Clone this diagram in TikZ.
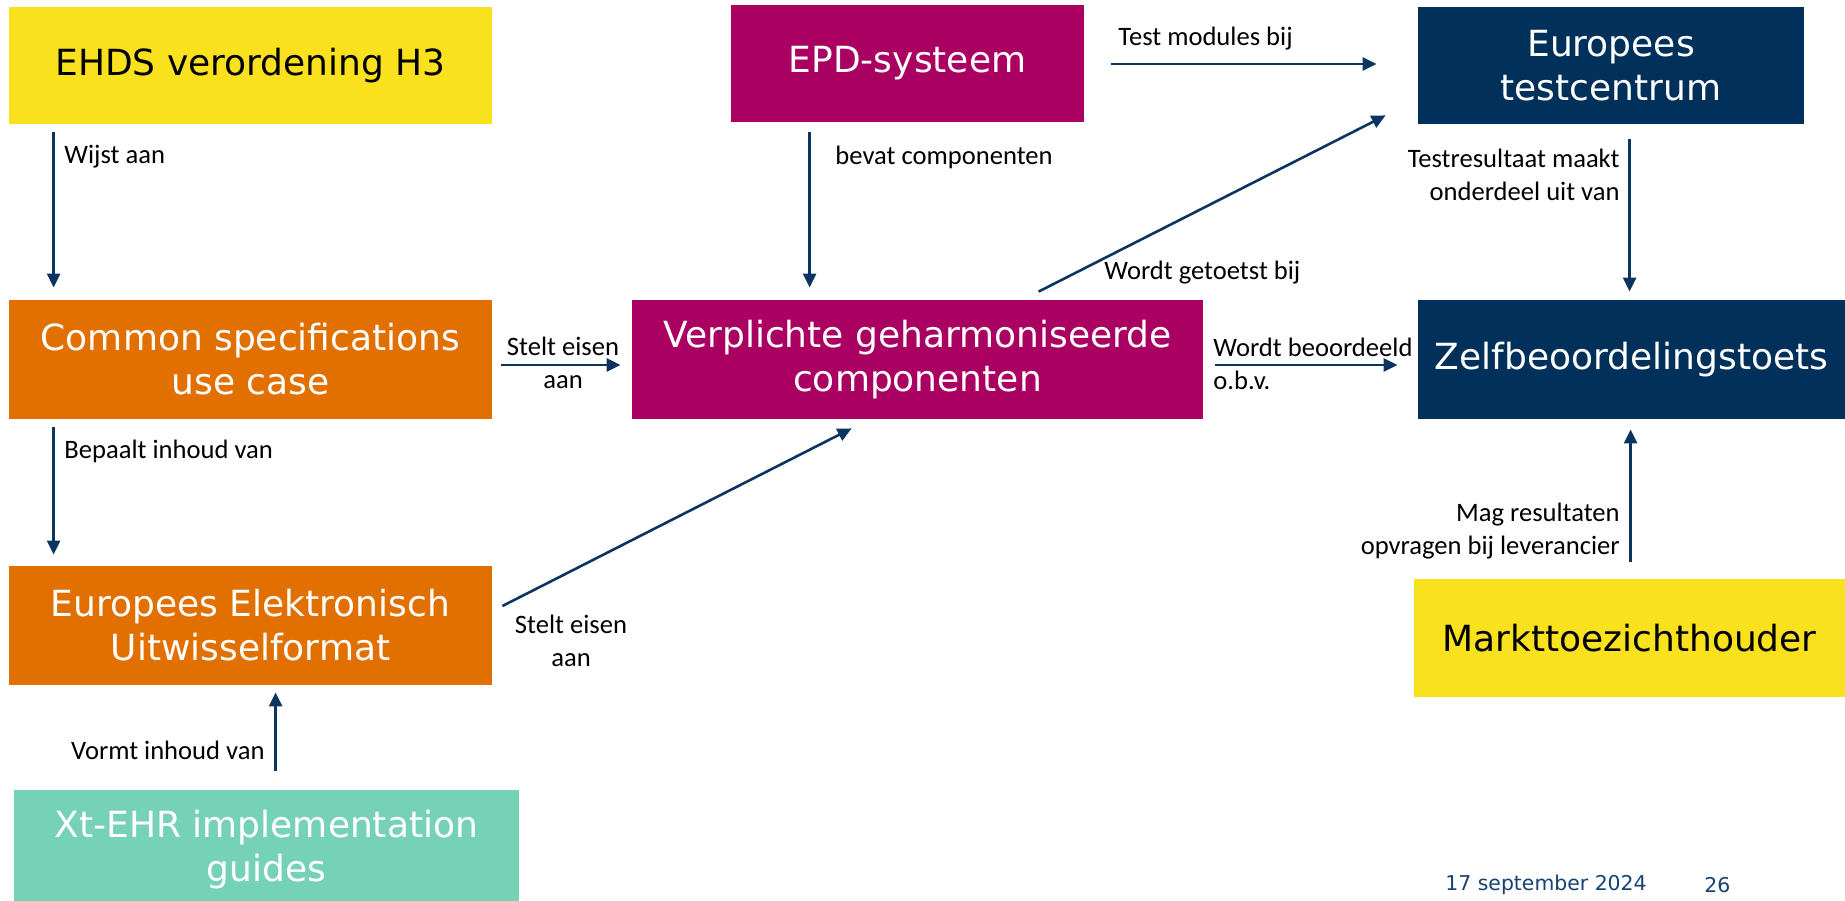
\documentclass[tikz,border=0pt]{standalone}
\usepackage{fontspec}
\setmainfont{DejaVu Sans}
\newfontfamily\lblfont{Carlito}
\usetikzlibrary{arrows.meta,calc}
\definecolor{cyellow}{HTML}{F9E11E}
\definecolor{corange}{HTML}{E17000}
\definecolor{cviolet}{HTML}{A90061}
\definecolor{cnavy}{HTML}{01305A}
\definecolor{cmint}{HTML}{76D2B6}
\definecolor{carrow}{HTML}{0B3560}
\definecolor{cfoot}{HTML}{154273}
\begin{document}
\begin{tikzpicture}[x=0.5pt,y=-0.5pt,
 box/.style={rectangle, inner sep=0pt, align=center, font=\fontsize{18}{22}\selectfont, text=white},
 lbl/.style={inner sep=0pt, font=\lblfont\fontsize{13.3}{16.5}\selectfont, text=black},
 foot/.style={inner sep=0pt, font=\fontsize{10.2}{12}\selectfont, text=cfoot},
 arr/.style={draw=carrow, line width=1.3pt, -{Triangle[length=7pt,width=6.5pt]}}]
\useasboundingbox (0,0) rectangle (1845,900);
\clip (0,0) rectangle (1845,900);
% boxes
\node[box, fill=cyellow, text=black, minimum width=241.5pt, minimum height=58.5pt] (ehds) at (250.5,65.5) {EHDS verordening H3};
\node[box, fill=corange, minimum width=241.5pt, minimum height=59.5pt] (cs) at (250.5,359.5) {Common specifications\\use case};
\node[box, fill=corange, minimum width=241.5pt, minimum height=59.5pt] (eef) at (250.5,625.5) {Europees Elektronisch\\Uitwisselformat};
\node[box, fill=cmint, minimum width=252.5pt, minimum height=60pt] (xt) at (266.5,850) {Xt-EHR implementation\\guides};
\node[box, fill=cviolet, minimum width=176.5pt, minimum height=58.5pt] (epd) at (907.5,63.5) {EPD-systeem};
\node[box, fill=cviolet, minimum width=285.5pt, minimum height=59.5pt] (verp) at (917.5,359.5) {Verplichte geharmoniseerde\\componenten};
\node[box, fill=cnavy, minimum width=193pt, minimum height=58.5pt] (etc) at (1611,65.5) {Europees\\testcentrum};
\node[box, fill=cnavy, minimum width=213.5pt, minimum height=59.5pt] (zelf) at (1631.5,359.5) {Zelfbeoordelingstoets};
\node[box, fill=cyellow, text=black, minimum width=215.5pt, minimum height=59pt] (markt) at (1629.5,638) {Markttoezichthouder};
% arrows
\draw[arr] ([xshift=22.5pt,yshift=-4pt]ehds.south west) -- ([xshift=22.5pt,yshift=6pt]cs.north west);
\draw[arr] ([xshift=22.5pt,yshift=-4pt]cs.south west) -- ([xshift=22.5pt,yshift=5.5pt]eef.north west);
\draw[arr] ([xshift=131pt,yshift=9.5pt]xt.north west) -- ([xshift=133.5pt,yshift=-3.5pt]eef.south west);
\draw[arr] ([xshift=4.5pt,yshift=-2.75pt]cs.east) -- ([xshift=-5.5pt,yshift=-2.75pt]verp.west);
\draw[arr] ([xshift=5pt,yshift=9.75pt]eef.east) -- ([xshift=110pt,yshift=-4.5pt]verp.south west);
\draw[arr] ([xshift=39.5pt,yshift=-5pt]epd.south west) -- ([xshift=89pt,yshift=6pt]verp.north west);
\draw[arr] ([xshift=13.5pt,yshift=-0.25pt]epd.east) -- ([xshift=-20.5pt,yshift=0.75pt]etc.west);
\draw[arr] ([xshift=203.5pt,yshift=4pt]verp.north west) -- ([xshift=-16pt,yshift=4.5pt]etc.south west);
\draw[arr] ([xshift=6pt,yshift=-2.75pt]verp.east) -- ([xshift=-10pt,yshift=-2.75pt]zelf.west);
\draw[arr] ([xshift=106pt,yshift=-7.5pt]etc.south west) -- ([xshift=106pt,yshift=4pt]zelf.north west);
\draw[arr] ([xshift=108.5pt,yshift=8.5pt]markt.north west) -- ([xshift=106.5pt,yshift=-5pt]zelf.south west);
% labels
\node[lbl, anchor=west] (l1) at (64,157) {Wijst aan};
\node[lbl, anchor=west] (l2) at (64,451) {Bepaalt inhoud van};
\node[lbl, anchor=east] (l3) at (265,750) {Vormt inhoud van};
\node[lbl, align=center] (l4) at (563,363) {Stelt eisen\\aan};
\node[lbl, align=center] (l5) at (571,641) {Stelt eisen\\aan};
\node[lbl, anchor=west] (l6) at (835,157) {bevat componenten};
\node[lbl, anchor=west] (l7) at (1118,39) {Test modules bij};
\node[lbl, anchor=west] (l8) at (1104,273) {Wordt getoetst bij};
\node[lbl, anchor=east, align=right] (l9) at (1620,175) {Testresultaat maakt\\onderdeel uit van};
\node[lbl, anchor=west, align=left] (l10) at (1213,364) {Wordt beoordeeld\\o.b.v.};
\node[lbl, anchor=east, align=right] (l11) at (1620,531) {Mag resultaten\\opvragen bij leverancier};
\node[foot, anchor=west] (f1) at (1445,885) {17 september 2024};
\node[foot, anchor=west] (f2) at (1704,885) {26};
\end{tikzpicture}
\end{document}
